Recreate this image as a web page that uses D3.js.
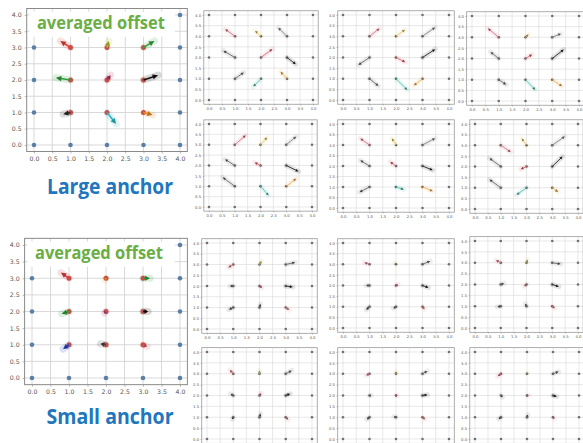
<!DOCTYPE html>
<html>
<head>
<meta charset="utf-8">
<script src="https://cdn.jsdelivr.net/npm/d3@7"></script>
<style>
  html, body { margin: 0; padding: 0; background: #fff; }
  svg { display: block; }
</style>
</head>
<body>
<svg id="fig" width="583" height="443"></svg>
<script>
// Axis ticks shared by every panel
const tickValues = [0, 0.5, 1, 1.5, 2, 2.5, 3, 3.5, 4];
const tickLabels = ["0.0", "0.5", "1.0", "1.5", "2.0", "2.5", "3.0", "3.5", "4.0"];

// 5x5 lattice; the inner 3x3 points are the anchors
const latticeCoords = [0, 1, 2, 3, 4];
const anchorX = [1, 2, 3, 1, 2, 3, 1, 2, 3];
const anchorY = [3, 3, 3, 2, 2, 2, 1, 1, 1];

// Predicted end points for each anchor (same order as anchorX / anchorY)
const largeAverage = [[0.72,3.2],[2.05,3.2],[3.3,3.2],[0.6,2.07],[2.1,2.15],[3.4,2.15],[0.8,0.95],[2.25,0.65],[3.25,0.92]];
const large1 = [[0.62,3.33],[1.77,3.26],[2.66,3.4],[0.55,2.32],[2.44,2.4],[3.34,1.68],[1.34,1.3],[1.7,0.63],[2.75,1.33]];
const large2 = [[1.38,3.37],[2.34,3.31],[3.48,3.42],[0.58,1.65],[2.35,1.78],[3.48,2.39],[1.34,0.66],[2.43,0.47],[2.67,0.68]];
const large3 = [[0.59,3.42],[2.12,3.14],[3.33,3.17],[0.69,2.31],[2.25,2.19],[3.43,2.42],[1.28,0.77],[2.37,0.52],[3.37,0.69]];
const large4 = [[1.43,3.46],[2.26,3.36],[3.39,3.4],[0.62,2.3],[1.77,2.15],[3.48,1.71],[0.53,1.43],[2.32,0.55],[3.39,1.37]];
const large5 = [[0.65,3.31],[1.84,3.32],[3.48,3.32],[0.65,2.27],[1.78,2.2],[3.39,1.8],[0.62,0.75],[2.3,0.88],[3.39,0.8]];
const large6 = [[1.39,2.68],[1.81,3.33],[3.49,3.42],[0.56,2.39],[1.77,1.87],[3.4,2.47],[0.56,1.39],[1.61,0.66],[3.23,0.8]];

const smallAverage = [[0.78,3.17],[1.97,2.95],[3.19,3.0],[0.8,1.93],[1.96,1.95],[3.14,2.0],[0.84,0.87],[1.85,1.03],[3.11,0.95]];
const small1 = [[0.81,2.86],[2.08,3.17],[3.36,3.1],[0.87,2.0],[2.1,1.92],[3.27,1.95],[0.83,0.9],[2.04,1.17],[3.14,0.88]];
const small2 = [[0.8,3.08],[1.95,3.06],[3.29,3.15],[0.87,2.0],[2.08,2.05],[3.23,1.9],[0.87,0.85],[1.9,0.92],[3.08,0.88]];
const small3 = [[0.81,3.12],[2.04,3.15],[3.33,2.94],[1.13,2.05],[1.91,1.92],[3.26,1.9],[0.87,0.97],[1.95,1.12],[3.1,0.9]];
const small4 = [[0.87,3.18],[2.0,3.15],[3.23,3.15],[0.9,2.08],[2.06,2.1],[3.17,2.08],[0.96,0.91],[2.04,1.18],[3.1,0.88]];
const small5 = [[0.87,2.92],[2.0,3.1],[3.19,3.13],[1.06,2.0],[2.05,2.0],[3.19,2.03],[0.9,0.9],[1.92,1.03],[3.1,0.9]];
const small6 = [[0.87,2.88],[2.02,3.05],[3.22,3.1],[1.06,1.92],[2.06,2.0],[3.15,1.95],[0.91,0.92],[2.03,1.12],[3.05,0.92]];

// Arrow colours per anchor
const largeAverageColors = ["#e0413a","#b5c22a","#3aa040","#2e9e3a","#b03060","#111111","#2a2a2a","#2bb5c0","#f08a20"];
const smallAverageColors = ["#d84040","#f0a030","#2e9e3a","#2e9e3a","#a04080","#111111","#2040c0","#444444","#e05060"];
const largeColors = ["#e07080","#e8c860","#808080","#666666","#e06070","#222222","#666666","#50c0b0","#f0b050"];
const smallColors = ["#e07080","#d8c860","#666666","#666666","#d86070","#222222","#555555","#666666","#e88080"];

// Captions
const groupTitles = ["Large anchor", "Small anchor"];
const boxTitle = "averaged offset";

const svg = d3.select("#fig");

// Panel placement: pixel positions of value 0 and 4 on each axis
const layout = {
  bigTop:    { x0: 34,  x4: 180, y0: 145, y4: 15,  big: true },
  bigBottom: { x0: 32,  x4: 180, y0: 378, y4: 245, big: true },
  t11: { x0: 209, x4: 313, y0: 100, y4: 15 },
  t12: { x0: 343, x4: 449, y0: 100, y4: 15 },
  t13: { x0: 472, x4: 579, y0: 101, y4: 16 },
  t21: { x0: 209, x4: 312, y0: 207, y4: 124 },
  t22: { x0: 343, x4: 449, y0: 208, y4: 124 },
  t23: { x0: 475, x4: 578, y0: 209, y4: 124 },
  b11: { x0: 207, x4: 312, y0: 329, y4: 243 },
  b12: { x0: 343, x4: 449, y0: 328, y4: 243 },
  b13: { x0: 475, x4: 578, y0: 328, y4: 241 },
  b21: { x0: 207, x4: 312, y0: 439, y4: 352, noXLabels: true },
  b22: { x0: 343, x4: 449, y0: 439, y4: 352, noXLabels: true },
  b23: { x0: 475, x4: 579, y0: 439, y4: 352, noXLabels: true }
};

function drawPanel(p, ends, colors, caption) {
  const big = !!p.big;
  const x = d3.scaleLinear().domain([0, 4]).range([p.x0, p.x4]);
  const y = d3.scaleLinear().domain([0, 4]).range([p.y0, p.y4]);
  const L = x(-0.2), R = x(4.2), T = y(4.2), B = y(-0.2);
  const g = svg.append("g");

  // grid every 0.5
  g.append("g").selectAll("line").data(tickValues).join("line")
    .attr("x1", d => x(d)).attr("x2", d => x(d)).attr("y1", T).attr("y2", B)
    .attr("stroke", big ? "#cfcfcf" : "#d9d9d9").attr("stroke-width", big ? 0.8 : 0.6);
  g.append("g").selectAll("line").data(tickValues).join("line")
    .attr("y1", d => y(d)).attr("y2", d => y(d)).attr("x1", L).attr("x2", R)
    .attr("stroke", big ? "#cfcfcf" : "#d9d9d9").attr("stroke-width", big ? 0.8 : 0.6);

  // axes
  const fs = big ? 6.2 : 3.8;
  const xAxis = d3.axisBottom(x).tickValues(tickValues)
    .tickFormat((d, i) => p.noXLabels ? "" : tickLabels[i])
    .tickSize(big ? 2 : 1.2).tickPadding(big ? 3 : 1.5);
  const yAxis = d3.axisLeft(y).tickValues(tickValues)
    .tickFormat((d, i) => tickLabels[i]).tickSize(big ? 2 : 1.2).tickPadding(big ? 3 : 1.5);
  const gx = g.append("g").attr("transform", `translate(0,${B})`).call(xAxis);
  const gy = g.append("g").attr("transform", `translate(${L},0)`).call(yAxis);
  if (p.noXLabels) gx.selectAll("text").remove();
  [gx, gy].forEach(a => {
    a.select(".domain").remove();
    a.selectAll("line").attr("stroke", "#888").attr("stroke-width", 0.6);
    a.selectAll("text").attr("font-family", "DejaVu Sans, sans-serif")
      .attr("font-size", fs).attr("fill", "#555");
  });

  // frame
  g.append("rect").attr("x", L).attr("y", T).attr("width", R - L).attr("height", B - T)
    .attr("fill", "none").attr("stroke", big ? "#8a8a8a" : "#9a9a9a").attr("stroke-width", big ? 1 : 0.8);

  // outer lattice points
  const ring = [];
  latticeCoords.forEach(i => latticeCoords.forEach(j => {
    if (i === 0 || i === 4 || j === 0 || j === 4) ring.push([i, j]);
  }));
  g.append("g").selectAll("circle").data(ring).join("circle")
    .attr("cx", d => x(d[0])).attr("cy", d => y(d[1]))
    .attr("r", big ? 2.3 : 1.3)
    .attr("fill", big ? "#5a7ea6" : "#707070");

  // arrows from anchors to predicted points
  const arrows = anchorX.map((ax, i) => ({
    x1: x(ax), y1: y(anchorY[i]), x2: x(ends[i][0]), y2: y(ends[i][1]), c: colors[i]
  }));
  // soft halo
  g.append("g").selectAll("line").data(arrows).join("line")
    .attr("x1", d => d.x1).attr("y1", d => d.y1).attr("x2", d => d.x2).attr("y2", d => d.y2)
    .attr("stroke", d => d.c).attr("stroke-opacity", big ? 0.16 : 0.12)
    .attr("stroke-width", big ? 7 : 5).attr("stroke-linecap", "round");
  // anchors
  g.append("g").selectAll("circle").data(arrows).join("circle")
    .attr("cx", d => d.x1).attr("cy", d => d.y1)
    .attr("r", big ? 2.5 : 1.3)
    .attr("fill", big ? "#c4504a" : "#606060");
  const headLen = big ? 5.5 : 3.0, headW = big ? 2.6 : 1.4;
  const ag = g.append("g").selectAll("g").data(arrows).join("g");
  ag.append("line")
    .attr("x1", d => d.x1).attr("y1", d => d.y1)
    .attr("x2", d => {
      const len = Math.hypot(d.x2 - d.x1, d.y2 - d.y1);
      const k = len > headLen ? (len - headLen * 0.6) / len : 0.4;
      return d.x1 + (d.x2 - d.x1) * k;
    })
    .attr("y2", d => {
      const len = Math.hypot(d.x2 - d.x1, d.y2 - d.y1);
      const k = len > headLen ? (len - headLen * 0.6) / len : 0.4;
      return d.y1 + (d.y2 - d.y1) * k;
    })
    .attr("stroke", d => d.c).attr("stroke-width", big ? 1.6 : 0.9);
  ag.append("path")
    .attr("d", d => {
      const len = Math.hypot(d.x2 - d.x1, d.y2 - d.y1) || 1;
      const hl = Math.min(headLen, len * 0.7);
      const ux = (d.x2 - d.x1) / len, uy = (d.y2 - d.y1) / len;
      const bx = d.x2 - ux * hl, by = d.y2 - uy * hl;
      const px = -uy * headW, py = ux * headW;
      return `M${d.x2},${d.y2}L${bx + px},${by + py}L${bx - px},${by - py}Z`;
    })
    .attr("fill", d => d3.color(d.c).darker(big ? 0.6 : 1.2));

  // caption box over the top of the panel
  if (caption) {
    const bx = x(-0.12), bw = x(3.86) - bx;
    const by = y(4.1), bh = 25;
    g.append("rect").attr("x", bx).attr("y", by).attr("width", bw).attr("height", bh)
      .attr("fill", "#fff");
    g.append("text").attr("x", x(0.08)).attr("y", by + 17)
      .attr("font-family", "Open Sans, sans-serif").attr("font-weight", 700)
      .attr("font-size", 17).attr("fill", "#6aae45")
      .attr("textLength", 128).attr("lengthAdjust", "spacingAndGlyphs")
      .text(caption);
  }
}

drawPanel(layout.bigTop, largeAverage, largeAverageColors, boxTitle);
drawPanel(layout.t11, large1, largeColors);
drawPanel(layout.t12, large2, largeColors);
drawPanel(layout.t13, large3, largeColors);
drawPanel(layout.t21, large4, largeColors);
drawPanel(layout.t22, large5, largeColors);
drawPanel(layout.t23, large6, largeColors);

drawPanel(layout.bigBottom, smallAverage, smallAverageColors, boxTitle);
drawPanel(layout.b11, small1, smallColors);
drawPanel(layout.b12, small2, smallColors);
drawPanel(layout.b13, small3, smallColors);
drawPanel(layout.b21, small4, smallColors);
drawPanel(layout.b22, small5, smallColors);
drawPanel(layout.b23, small6, smallColors);

// group captions
svg.selectAll(".group-title").data(groupTitles).join("text")
  .attr("class", "group-title")
  .attr("x", 110).attr("y", (d, i) => i === 0 ? 194 : 424)
  .attr("text-anchor", "middle")
  .attr("font-family", "Open Sans, sans-serif").attr("font-weight", 700)
  .attr("font-size", 21).attr("fill", "#2176be")
  .attr("textLength", (d, i) => i === 0 ? 126 : 127).attr("lengthAdjust", "spacingAndGlyphs")
  .text(d => d);
</script>
</body>
</html>
